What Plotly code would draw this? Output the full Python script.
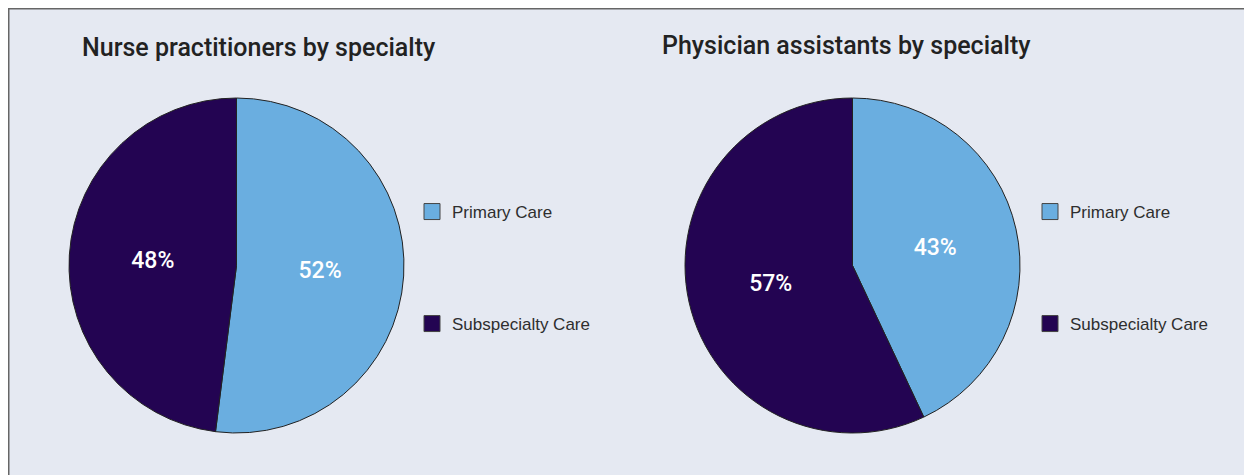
import plotly.graph_objects as go

W, H = 1252, 475
OFF = 8  # page body margin
FW, FH = W - OFF, H - OFF

categories = ["Primary Care", "Subspecialty Care"]
np_values = [52, 48]
pa_values = [43, 57]
titles = ["Nurse practitioners by specialty", "Physician assistants by specialty"]
colors = ["#6aaee0", "#230452"]

FONT = "Liberation Sans"
TFONT = "Roboto"

def px_x(p):
    return (p - OFF) / FW

def px_y(p):
    return 1 - (p - OFF) / FH

fig = go.Figure()

pie_domains = [
    dict(x=[px_x(69), px_x(404)], y=[px_y(433), px_y(98)]),
    dict(x=[px_x(685), px_x(1020)], y=[px_y(433), px_y(98)]),
]

for vals, dom in zip([np_values, pa_values], pie_domains):
    fig.add_trace(go.Pie(
        labels=categories,
        values=vals,
        domain=dom,
        sort=False,
        direction="clockwise",
        rotation=0,
        marker=dict(colors=colors, line=dict(color="#222222", width=1)),
        textinfo="percent",
        textposition="inside",
        insidetextorientation="horizontal",
        textfont=dict(color="white", size=23, family=TFONT, weight=500),
        showlegend=False,
        hoverinfo="label+percent",
    ))

# legend entries (one legend per entry so they can be spaced like the original)
legend_pos = [
    (432, 212), (432, 324),
    (1050, 212), (1050, 324),
]
legend_names = ["legend", "legend2", "legend3", "legend4"]
entries = [(categories[0], colors[0]), (categories[1], colors[1])] * 2
for (name, col), lname in zip(entries, legend_names):
    fig.add_trace(go.Scatter(
        x=[None], y=[None], mode="markers", name=name,
        marker=dict(symbol="square", size=17, color=col,
                    line=dict(color="#444444", width=1)),
        legend=lname, showlegend=True, hoverinfo="skip",
    ))

layout_legends = {}
for (cx, cy), lname in zip(legend_pos, legend_names):
    layout_legends[lname] = dict(
        x=px_x(cx - 20), y=px_y(cy), xanchor="left", yanchor="middle",
        bgcolor="rgba(0,0,0,0)", borderwidth=0,
        font=dict(family=FONT, size=17, color="#2e2e2e"),
        itemclick=False, itemdoubleclick=False,
    )

annotations = [
    dict(text=titles[0], x=px_x(80), y=px_y(48), xref="paper", yref="paper",
         xanchor="left", yanchor="middle", showarrow=False,
         font=dict(family=TFONT, size=25, color="#222222", weight=500)),
    dict(text=titles[1], x=px_x(660), y=px_y(46), xref="paper", yref="paper",
         xanchor="left", yanchor="middle", showarrow=False,
         font=dict(family=TFONT, size=25, color="#222222", weight=500)),
]

fig.update_layout(
    width=FW, height=FH,
    margin=dict(l=0, r=0, t=0, b=0),
    paper_bgcolor="#e5e9f2",
    plot_bgcolor="rgba(0,0,0,0)",
    xaxis=dict(visible=False),
    yaxis=dict(visible=False),
    annotations=annotations,
    shapes=[dict(type="rect", xref="paper", yref="paper",
                 x0=px_x(8.5), x1=1.05, y0=-0.05, y1=px_y(8.5),
                 fillcolor="rgba(0,0,0,0)", line=dict(color="#666666", width=2),
                 layer="below")],
    **layout_legends,
)

fig.write_html("out.html")
